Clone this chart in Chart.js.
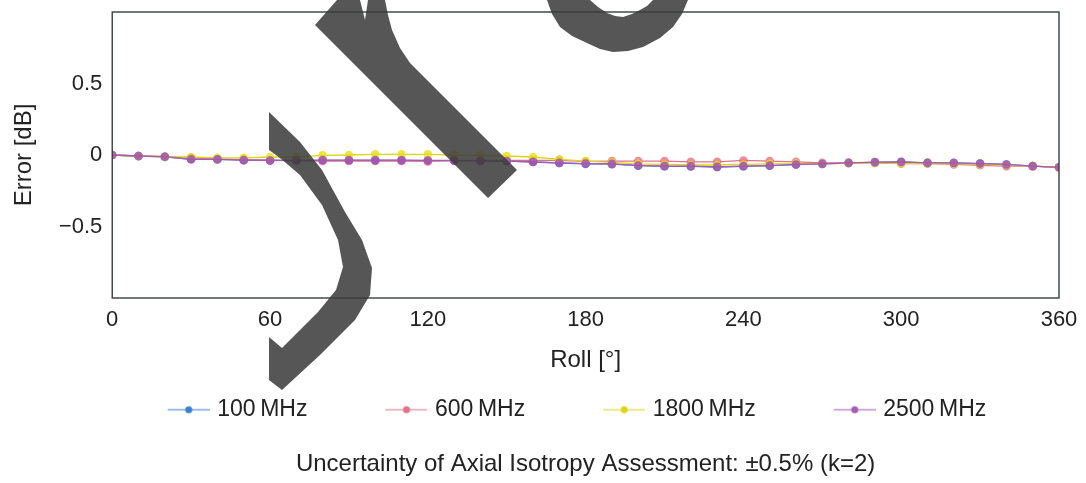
<!DOCTYPE html>
<html>
<head>
<meta charset="utf-8">
<script src="https://cdn.jsdelivr.net/npm/chart.js@4.4.0/dist/chart.umd.min.js"></script>
<style>
  html, body { margin: 0; padding: 0; background: #fff; }
  #wrap { width: 1086px; height: 483px; }
</style>
</head>
<body>
<div id="wrap"><canvas id="chart"></canvas></div>
<script>
// roll angle in degrees, one point every 10°
const rollDeg = [0,10,20,30,40,50,60,70,80,90,100,110,120,130,140,150,160,170,180,
                 190,200,210,220,230,240,250,260,270,280,290,300,310,320,330,340,350,360];

// error in dB
const err100  = [0,-0.008,-0.013,-0.03,-0.031,-0.036,-0.038,-0.039,-0.037,-0.037,-0.037,-0.037,-0.039,-0.039,-0.041,-0.043,-0.049,-0.056,-0.062,-0.064,-0.075,-0.079,-0.08,-0.084,-0.079,-0.075,-0.067,-0.062,-0.056,-0.051,-0.049,-0.055,-0.056,-0.06,-0.066,-0.078,-0.086];
const err600  = [0,-0.007,-0.012,-0.02,-0.028,-0.032,-0.036,-0.04,-0.042,-0.042,-0.042,-0.042,-0.045,-0.04,-0.038,-0.038,-0.038,-0.038,-0.045,-0.043,-0.043,-0.043,-0.048,-0.048,-0.038,-0.043,-0.048,-0.055,-0.055,-0.055,-0.06,-0.06,-0.066,-0.072,-0.078,-0.078,-0.086];
const err1800 = [0,-0.007,-0.014,-0.014,-0.02,-0.02,-0.014,-0.014,-0.002,0,0.005,0.005,0.005,0,-0.002,-0.007,-0.014,-0.03,-0.043,-0.052,-0.062,-0.066,-0.07,-0.07,-0.066,-0.062,-0.06,-0.06,-0.058,-0.055,-0.058,-0.06,-0.06,-0.066,-0.07,-0.078,-0.086];
const err2500 = [0,-0.007,-0.012,-0.03,-0.03,-0.036,-0.038,-0.038,-0.036,-0.036,-0.036,-0.036,-0.038,-0.038,-0.04,-0.042,-0.048,-0.055,-0.06,-0.062,-0.073,-0.078,-0.078,-0.083,-0.078,-0.074,-0.066,-0.062,-0.055,-0.05,-0.048,-0.055,-0.055,-0.06,-0.066,-0.078,-0.086];

const seriesNames = ['100\u2009MHz', '600\u2009MHz', '1800\u2009MHz', '2500\u2009MHz'];
const xTicks = [0, 60, 120, 180, 240, 300, 360];
const yTicks = [-0.5, 0, 0.5];

const lineColors  = ['#3a7fd0', '#e2708a', '#dcd418', '#a45cb8'];
const pointColors = ['rgba(40,120,210,0.75)', 'rgba(232,100,125,0.75)', 'rgba(232,222,20,0.8)', 'rgba(160,85,180,0.85)'];
const BOX = 106;       // legend box width, most of it blank lead
const SYM = 42;        // legend symbol length
const NUDGE = 4;       // pulls the symbol closer to its text

const FONT = '"Liberation Sans", Arial, sans-serif';

// legend symbol: thin line with a dot in the middle, right-aligned in the box
function legendSymbol(i) {
  const c = document.createElement('canvas');
  c.width = BOX + 2 * NUDGE; c.height = 10;
  const g = c.getContext('2d');
  const x0 = c.width - SYM;
  g.strokeStyle = lineColors[i];
  g.lineWidth = 1.2;
  g.beginPath(); g.moveTo(x0, 5); g.lineTo(x0 + SYM, 5); g.stroke();
  g.fillStyle = lineColors[i];
  g.beginPath(); g.arc(x0 + SYM / 2, 5, 3.5, 0, Math.PI * 2); g.fill();
  return c;
}

const allSeries = [err100, err600, err1800, err2500];
const datasets = allSeries.map((vals, i) => ({
  label: seriesNames[i],
  data: rollDeg.map((d, k) => ({ x: d, y: vals[k] })),
  borderColor: lineColors[i],
  borderWidth: 1.3,
  backgroundColor: pointColors[i],
  pointBackgroundColor: pointColors[i],
  pointBorderWidth: 0,
  pointRadius: 4.3,
  pointStyle: 'circle',
  order: 4 - i,
  legendSymbol: legendSymbol(i)
}));

// frame around the plot
const frame = {
  id: 'frame',
  afterDatasetsDraw(chart) {
    const a = chart.chartArea, ctx = chart.ctx;
    ctx.save();
    ctx.strokeStyle = '#34403e';
    ctx.lineWidth = 1.4;
    ctx.strokeRect(a.left, a.top, a.right - a.left, a.bottom - a.top);
    ctx.restore();
  }
};

// grey pen strokes lying over the scanned page
const scribbleShapes = [
  [[269,112],[300,142],[322,170],[345,212],[362,240],[372,268],[370,295],[355,320],[320,355],[282,390],
   [269,380],[269,337],[282,348],[318,312],[336,290],[343,267],[338,240],[322,205],[300,175],[280,158],[269,150]],
  [[315,25],[337,0],[360,0],[365,20],[368,0],[385,0],[388,15],[392,30],[400,48],[410,63],[517,170],[488,198]],
  [[547,0],[552,14],[560,27],[572,36],[587,43],[600,49],[613,52],[628,51],[643,47],[660,38],[673,27],[682,14],[688,0],
   [653,0],[647,6],[640,10],[632,14],[623,17],[615,16],[607,13],[598,7],[590,0]]
];
const scribble = {
  id: 'scribble',
  afterDraw(chart) {
    const ctx = chart.ctx;
    ctx.save();
    ctx.fillStyle = 'rgba(58,58,58,0.86)';
    scribbleShapes.forEach(shape => {
      ctx.beginPath();
      shape.forEach(([x, y], i) => i ? ctx.lineTo(x, y) : ctx.moveTo(x, y));
      ctx.closePath();
      ctx.fill();
    });
    ctx.restore();
  }
};

new Chart(document.getElementById('chart'), {
  type: 'line',
  data: { datasets: datasets },
  plugins: [frame, scribble],
  options: {
    responsive: true,
    maintainAspectRatio: false,
    animation: false,
    layout: { padding: { left: 0, right: 0, top: 12, bottom: 0 } },
    scales: {
      x: {
        type: 'linear', min: 0, max: 360,
        afterBuildTicks: s => { s.ticks = xTicks.map(v => ({ value: v })); },
        afterFit: s => { s.paddingRight = 27; },
        grid: { display: false, drawTicks: false },
        border: { display: false },
        ticks: { color: '#222', font: { family: FONT, size: 22 }, padding: 9, maxRotation: 0 },
        title: { display: true, text: 'Roll [°]', color: '#222', font: { family: FONT, size: 24 }, padding: { top: 4, bottom: 13 } }
      },
      y: {
        min: -1, max: 1,
        afterBuildTicks: s => { s.ticks = yTicks.map(v => ({ value: v })); },
        afterFit: s => { s.paddingTop = 0; },
        grid: { display: false, drawTicks: false },
        border: { display: false },
        ticks: {
          color: '#222', font: { family: FONT, size: 22 }, padding: 10,
          callback: v => v < 0 ? '\u2212' + Math.abs(v) : String(v)
        },
        title: { display: true, text: 'Error [dB]', color: '#222', font: { family: FONT, size: 24 }, padding: { top: 10, bottom: 10 } }
      }
    },
    plugins: {
      legend: {
        position: 'bottom',
        labels: {
          color: '#222',
          font: { family: FONT, size: 23 },
          usePointStyle: true,
          pointStyleWidth: BOX,
          padding: 10,
          generateLabels: chart => chart.data.datasets.map((ds, i) => ({
            text: ds.label, datasetIndex: i, pointStyle: ds.legendSymbol,
            fontColor: '#222', hidden: false, lineWidth: 0
          }))
        }
      },
      title: {
        display: true,
        position: 'bottom',
        fullSize: false,
        text: 'Uncertainty of Axial Isotropy Assessment: \u00b10.5% (k=2)',
        color: '#222',
        font: { family: FONT, size: 24, weight: 'normal' },
        padding: { top: 19, bottom: 4 }
      },
      tooltip: { enabled: false }
    }
  }
});
</script>
</body>
</html>
